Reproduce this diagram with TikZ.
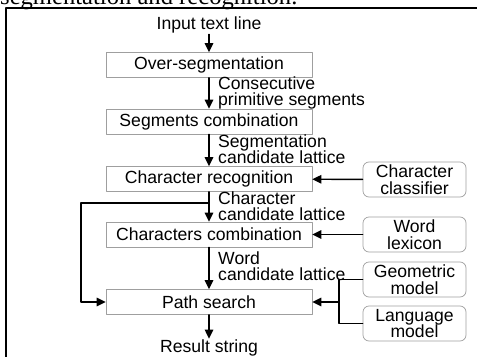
\documentclass[tikz,border=0pt]{standalone}
\usepackage{fontspec}
\setmainfont{Liberation Sans}
\newfontfamily\capserif{Liberation Serif}
\usetikzlibrary{arrows.meta}

\begin{document}
\begin{tikzpicture}[x=1pt,y=-1pt,line cap=round,line join=round,>={Triangle[length=9pt,width=8.5pt]},
    every node/.style={font=\fontsize{17.6}{16.5}\selectfont},
    procbox/.style={draw=gray!75,line width=0.7pt,minimum width=206pt,minimum height=25pt,inner sep=0pt},
    modelbox/.style={draw=gray!75,line width=0.7pt,rounded corners=6pt,minimum width=103pt,minimum height=35pt,inner sep=0pt,align=center},
    flow/.style={->,line width=1.4pt},
    lbl/.style={anchor=west,align=left,inner sep=0pt}]

\clip (0,0) rectangle (479,356);

% caption remnant and frame
\node[font=\capserif\fontsize{24.6}{26}\selectfont,anchor=base west,inner sep=0pt] (caption) at (0,5) {segmentation and recognition.};
\draw[line width=2.2pt,line cap=butt] (6,360) -- (6,8) -- (477,8);

% main chain
\node[inner sep=1pt] (input) at (209,25) {Input text line};
\node[procbox] (overseg) at (209,65) {Over-segmentation};
\node[procbox] (segcomb) at (209,121.5) {Segments combination};
\node[procbox] (charrec) at (209,179) {Character recognition};
\node[procbox] (charcomb) at (209,234.5) {Characters combination};
\node[procbox] (pathsearch) at (209,302) {Path search};
\node[inner sep=1pt] (result) at (209,348) {Result string};

\node[lbl] (lblseg) at (218,93) {Consecutive\\primitive segments};
\node[lbl] (lbllat) at (218,149) {Segmentation\\candidate lattice};
\node[lbl] (lblchar) at (218,206) {Character\\candidate lattice};
\node[lbl] (lblword) at (218,266) {Word\\candidate lattice};

% knowledge sources
\node[modelbox] (classifier) at (414.5,179.5) {Character\\classifier};
\node[modelbox] (lexicon) at (414.5,234.5) {Word\\lexicon};
\node[modelbox] (geometric) at (414.5,279.5) {Geometric\\model};
\node[modelbox] (language) at (414.5,323.5) {Language\\model};

\draw[flow] (input) -- (overseg);
\draw[flow] (overseg) -- (segcomb);
\draw[flow] (segcomb) -- (charrec);
\draw[flow] (charrec) -- (charcomb);
\draw[flow] (charcomb) -- (pathsearch);
\draw[flow] (pathsearch) -- (result);

\draw[flow] (classifier) -- (charrec);
\draw[flow] (lexicon) -- (charcomb);

\coordinate (split) at (209,203);
\coordinate (loopx) at (81,203);
\draw[flow] (split) -- (loopx) |- (pathsearch.west);

\coordinate (join) at (339,302);
\draw[line width=1.4pt] (geometric.west) -| (join) |- (language.west);
\draw[flow] (join) -- (pathsearch.east);

\end{tikzpicture}
\end{document}
